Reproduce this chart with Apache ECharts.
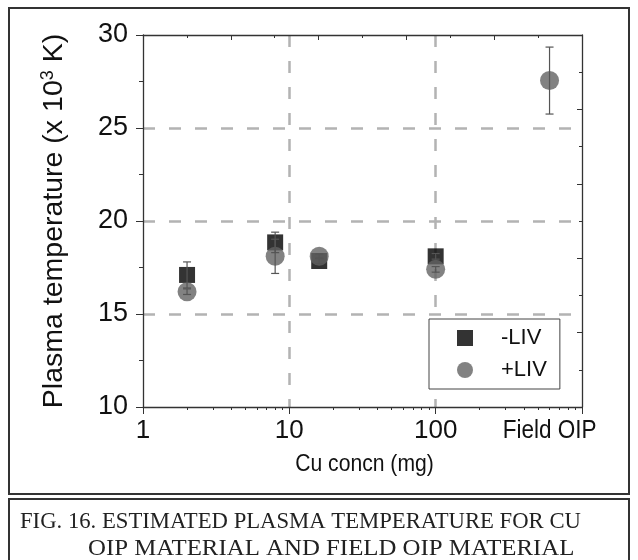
<!DOCTYPE html>
<html><head><meta charset="utf-8">
<script src="https://cdn.jsdelivr.net/npm/echarts@6/dist/echarts.min.js"></script>
<style>html,body{margin:0;padding:0;background:#fff}#c{width:638px;height:560px}</style>
</head><body><div id="c"></div>
<script>
// ---- data ----
const seriesNames = ['-LIV', '+LIV'];
const xMinusLIV = [2, 8, 16, 100];
const yMinusLIV = [17.1, 18.85, 17.85, 18.1];
const errMinusLIV = [0.7, 0.55, 0.15, 0.15];
const xPlusLIV = [2, 8, 16, 100, 600];
const yPlusLIV = [16.2, 18.1, 18.1, 17.4, 27.55];
const errPlusLIV = [0.15, 0.92, 0.12, 0.15, 1.8];
const xMajorTicks = [1, 10, 100, 1000];
const xMinorTicks = [2, 3, 4, 5, 6, 7, 8, 9, 20, 30, 40, 50, 60, 70, 80, 90, 200, 300, 400, 500, 600, 700, 800, 900];
const xLabelValues = [1, 10, 100];
const fieldLabelValue = 600;
const fieldLabelText = 'Field OIP';
const yTickMin = 10, yTickMax = 30, yTickStep = 5;
const xTitle = 'Cu concn (mg)';
const yTitleParts = ['Plasma temperature (x 10', '3', ' K)'];
const captionLines = ['FIG. 16. ESTIMATED PLASMA TEMPERATURE FOR CU', 'OIP MATERIAL AND FIELD OIP MATERIAL'];

// ---- chart ----
const chart = echarts.init(document.getElementById('c'), null, {renderer: 'canvas'});
const FONT = 'Liberation Sans, Arial, sans-serif';
const SERIF = '"Liberation Serif", "Times New Roman", serif';
const AX = '#333';
const gridRect = {left: 143, right: 56, top: 35, bottom: 153};
const dashStyle = {color: '#b3b3b3', width: 2.5, type: [12, 14]};

function zip(a, b) { return a.map((v, i) => [v, b[i]]); }
function errData(xs, ys, es) { return xs.map((v, i) => [v, ys[i] - es[i], ys[i] + es[i]]); }

function errRender(params, api) {
  const x = api.value(0), lo = api.value(1), hi = api.value(2);
  const p1 = api.coord([x, hi]), p2 = api.coord([x, lo]);
  const w = 4;
  const st = {stroke: '#555', lineWidth: 1.2};
  return {type: 'group', children: [
    {type: 'line', shape: {x1: p1[0], y1: p1[1], x2: p2[0], y2: p2[1]}, style: st},
    {type: 'line', shape: {x1: p1[0] - w, y1: p1[1], x2: p1[0] + w, y2: p1[1]}, style: st},
    {type: 'line', shape: {x1: p2[0] - w, y1: p2[1], x2: p2[0] + w, y2: p2[1]}, style: st}
  ]};
}

const option = {
  animation: false,
  backgroundColor: '#fff',
  grid: [
    Object.assign({}, gridRect),
    Object.assign({}, gridRect)
  ],
  xAxis: [
    { // main log axis (bottom) with minor ticks and labels
      type: 'log', logBase: 10, min: 1, max: 1000, gridIndex: 0, position: 'bottom',
      axisLine: {show: true, lineStyle: {color: AX, width: 1.3}},
      axisTick: {show: true, inside: false, length: 3, customValues: xMinorTicks, lineStyle: {color: AX}},
      axisLabel: {show: true, customValues: xLabelValues, margin: 11, color: '#111',
        fontFamily: FONT, fontSize: 26},
      splitLine: {show: false}
    },
    { // top mirror axis
      type: 'value', min: 0, max: 10, interval: 2, gridIndex: 0, position: 'top',
      axisLine: {show: true, lineStyle: {color: AX, width: 1.3}},
      axisTick: {show: true, inside: true, length: 5, lineStyle: {color: AX}},
      minorTick: {show: true, splitNumber: 2, length: 3, lineStyle: {color: AX}},
      axisLabel: {show: false}, splitLine: {show: false}
    },
    { // major ticks + vertical grid lines
      type: 'log', logBase: 10, min: 1, max: 1000, gridIndex: 1, position: 'bottom',
      axisLine: {show: false},
      axisTick: {show: true, inside: false, length: 7, customValues: xMajorTicks, lineStyle: {color: AX}},
      axisLabel: {show: false},
      splitLine: {show: true, showMinLine: false, showMaxLine: false, lineStyle: dashStyle}
    }
  ],
  yAxis: [
    {
      type: 'value', min: yTickMin, max: yTickMax, interval: yTickStep, gridIndex: 0, position: 'left',
      axisLine: {show: true, lineStyle: {color: AX, width: 1.3}},
      axisTick: {show: true, inside: false, length: 7, lineStyle: {color: AX}},
      minorTick: {show: true, splitNumber: 2, length: 4, lineStyle: {color: AX}},
      axisLabel: {margin: 15, fontFamily: FONT, fontSize: 27, color: '#111'},
      splitLine: {show: true, showMinLine: false, showMaxLine: false, lineStyle: dashStyle},
      name: '{m|' + yTitleParts[0] + '}{s|' + yTitleParts[1] + '}{m|' + yTitleParts[2] + '}',
      nameLocation: 'middle', nameGap: 74,
      nameTextStyle: {fontFamily: FONT, color: '#111', rich: {
        m: {fontFamily: FONT, fontSize: 28.5, color: '#111'},
        s: {fontFamily: FONT, fontSize: 18, color: '#111', verticalAlign: 'top', padding: [0, 0, 12, 0]}
      }}
    },
    {
      type: 'value', min: 0, max: 10, interval: 2, gridIndex: 0, position: 'right',
      axisLine: {show: true, lineStyle: {color: AX, width: 1.3}},
      axisTick: {show: true, inside: true, length: 5, lineStyle: {color: AX}},
      minorTick: {show: true, splitNumber: 2, length: 3, lineStyle: {color: AX}},
      axisLabel: {show: false}, splitLine: {show: false}
    },
    {
      type: 'value', min: yTickMin, max: yTickMax, gridIndex: 1, show: false
    }
  ],
  legend: {
    data: seriesNames.map(n => ({name: n})),
    orient: 'vertical', left: 429, top: 319,
    padding: [8, 13, 8, 28], itemGap: 10, itemWidth: 16, itemHeight: 16,
    borderColor: '#444', borderWidth: 1, backgroundColor: '#fff',
    textStyle: {fontFamily: FONT, fontSize: 22, color: '#111', lineHeight: 20, padding: [0, 0, 0, 23]}
  },
  series: [
    {name: seriesNames[0], type: 'scatter', xAxisIndex: 0, yAxisIndex: 0, symbol: 'rect', symbolSize: 16,
      itemStyle: {color: '#000'}, data: zip(xMinusLIV, yMinusLIV), z: 3},
    {name: seriesNames[1], type: 'scatter', xAxisIndex: 0, yAxisIndex: 0, symbol: 'circle', symbolSize: 19,
      itemStyle: {color: '#636363'}, data: zip(xPlusLIV, yPlusLIV), z: 4},
    {name: 'err-', type: 'custom', xAxisIndex: 0, yAxisIndex: 0, renderItem: errRender,
      encode: {x: 0, y: [1, 2]}, data: errData(xMinusLIV, yMinusLIV, errMinusLIV), z: 5},
    {name: 'err+', type: 'custom', xAxisIndex: 0, yAxisIndex: 0, renderItem: errRender,
      encode: {x: 0, y: [1, 2]}, data: errData(xPlusLIV, yPlusLIV, errPlusLIV), z: 5}
  ]
};
chart.setOption(option);

// texts placed relative to the axes (positions derived from the chart's own scales)
const plotLeft = chart.convertToPixel({xAxisIndex: 0}, 1);
const plotRight = chart.convertToPixel({xAxisIndex: 0}, 1000);
const plotBottom = chart.convertToPixel({yAxisIndex: 0}, yTickMin);
const fieldX = chart.convertToPixel({xAxisIndex: 0}, fieldLabelValue);
chart.setOption({
  graphic: [
    {type: 'rect', shape: {x: 9, y: 8, width: 620, height: 486}, style: {fill: null, stroke: '#333', lineWidth: 2}, silent: true},
    {type: 'rect', shape: {x: 9, y: 499, width: 620, height: 80}, style: {fill: null, stroke: '#333', lineWidth: 2}, silent: true},
    {type: 'text', x: fieldX, y: plotBottom + 24, scaleX: 0.9,
      style: {text: fieldLabelText, font: '25px ' + FONT, fill: '#111', align: 'center', verticalAlign: 'middle'}},
    {type: 'text', x: (plotLeft + plotRight) / 2 + 2, y: plotBottom + 57, scaleX: 0.88,
      style: {text: xTitle, font: '24px ' + FONT, fill: '#111', align: 'center', verticalAlign: 'middle'}},
    {type: 'text', x: 20, y: 511, style: {text: captionLines[0], font: '22.7px ' + SERIF, fill: '#222'}},
    {type: 'text', x: 88, y: 537, scaleX: 1.08, style: {text: captionLines[1], font: '23px ' + SERIF, fill: '#222'}}
  ]
});
</script>
</body></html>
